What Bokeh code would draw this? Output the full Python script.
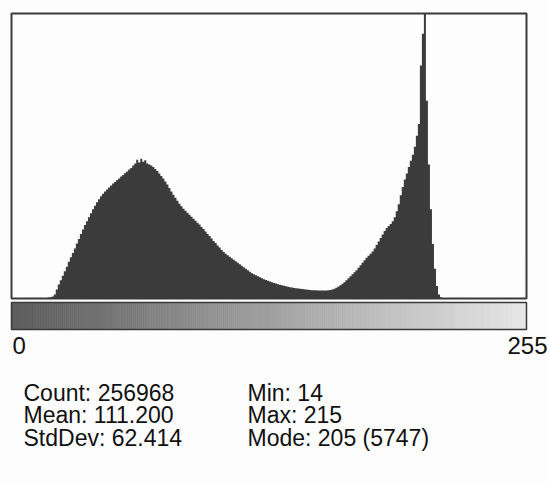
from bokeh.plotting import figure
from bokeh.models import Range1d
from bokeh.core.properties import value
from bokeh.embed import file_html
from bokeh.resources import INLINE

# ---- data ----
first_bin = 14
counts_from_14 = [
    3, 5, 8, 12, 18, 25, 40, 80, 180, 280,            # 14-23
    370, 460, 550, 640, 740, 830, 920, 1010, 1110, 1200,  # 24-33
    1300, 1390, 1480, 1560, 1640, 1720, 1800, 1870, 1940, 2000,  # 34-43
    2060, 2110, 2160, 2200, 2240, 2280, 2320, 2350, 2390, 2420,  # 44-53
    2460, 2490, 2530, 2560, 2600, 2630, 2680, 2720, 2800, 2740,  # 54-63
    2820, 2760, 2790, 2720, 2700, 2680, 2650, 2610, 2570, 2520,  # 64-73
    2470, 2420, 2360, 2300, 2230, 2160, 2090, 2030, 1970, 1910,  # 74-83
    1860, 1810, 1770, 1730, 1690, 1650, 1610, 1570, 1530, 1490,  # 84-93
    1440, 1400, 1350, 1300, 1260, 1210, 1160, 1120, 1070, 1030,  # 94-103
    980, 940, 900, 870, 840, 810, 780, 750, 720, 690,            # 104-113
    660, 630, 600, 570, 540, 510, 490, 470, 450, 430,            # 114-123
    410, 390, 375, 360, 345, 330, 315, 300, 285, 275,            # 124-133
    265, 255, 245, 235, 228, 220, 213, 206, 200, 195,            # 134-143
    190, 185, 180, 176, 172, 168, 166, 164, 162, 160,            # 144-153
    160, 160, 162, 165, 170, 180, 195, 215, 240, 265,            # 154-163
    295, 330, 370, 410, 450, 490, 530, 570, 620, 670,            # 164-173
    720, 770, 820, 860, 900, 950, 1010, 1080, 1150, 1220,        # 174-183
    1290, 1360, 1420, 1460, 1500, 1560, 1640, 1760, 1900, 2080,  # 184-193
    2250, 2400, 2520, 2650, 2780, 2900, 3060, 3280, 3520, 4700,  # 194-203
    5340, 5747, 3990, 2700, 1800, 1100, 600, 250, 80, 25,        # 204-213
    8, 3,                                                        # 214-215
]
bins = list(range(256))
counts = [0] * 256
for i, c in enumerate(counts_from_14):
    counts[first_bin + i] = c
y_max = 5747

axis_labels = ["0", "255"]
stats_left = ["Count: 256968", "Mean: 111.200", "StdDev: 62.414"]
stats_right = ["Min: 14", "Max: 215", "Mode: 205 (5747)"]

# ---- layout ----
W, H = 549, 483
frame_left_px, frame_right_px = 11, 526
frame_top_px, frame_bottom_px = 13, 298
sx = (frame_right_px - frame_left_px) / 256.0
sy = (frame_bottom_px - frame_top_px) / float(y_max)

p = figure(width=W, height=H, output_backend="svg", toolbar_location=None,
           x_range=Range1d(-frame_left_px / sx, (W - frame_left_px) / sx),
           y_range=Range1d(-(H - frame_bottom_px) / sy, y_max + frame_top_px / sy),
           min_border=0, background_fill_color="#fdfdfd", border_fill_color="#fdfdfd")
p.extra_x_ranges = {"px": Range1d(0, W)}
p.extra_y_ranges = {"px": Range1d(H, 0)}
p.axis.visible = False
p.grid.visible = False
p.outline_line_color = None

# histogram
p.varea_step(x=bins + [256], y1=[0] * 257, y2=counts + [0], step_mode="after",
             fill_color="#3b3b3b")

# frame around histogram
p.quad(left=[0], right=[256], bottom=[0], top=[y_max], fill_color=None,
       line_color="#3a3a3a", line_width=2)

# gradient bar (grey ramp)
bar_top, bar_bottom = 302, 329
def grey(i):
    v = int(round(0x5a + (0xe6 - 0x5a) * i / 255.0))
    return "#%02x%02x%02x" % (v, v, v)
ramp = [grey(i) for i in bins]
p.quad(left=bins, right=[b + 1 for b in bins], bottom=[bar_bottom] * 256,
       top=[bar_top] * 256, fill_color=ramp, line_color=ramp, line_width=0.6,
       y_range_name="px")
p.quad(left=[0], right=[256], bottom=[bar_bottom], top=[bar_top], fill_color=None,
       line_color="#3a3a3a", line_width=1.5, y_range_name="px")

font = value("Liberation Sans")
# axis end labels
p.text(x=[12], y=[345], text=[axis_labels[0]], text_font=font, text_font_size="24px",
       text_color="#111111", text_baseline="middle", text_align="left",
       x_range_name="px", y_range_name="px")
p.text(x=[547], y=[345], text=[axis_labels[1]], text_font=font, text_font_size="24px",
       text_color="#111111", text_baseline="middle", text_align="right",
       x_range_name="px", y_range_name="px")

# statistics
centers = [392, 414.5, 437]
p.text(x=[23] * 3, y=centers, text=stats_left, text_font=font, text_font_size="23px",
       text_color="#111111", text_baseline="middle", text_align="left",
       x_range_name="px", y_range_name="px")
p.text(x=[247] * 3, y=centers, text=stats_right, text_font=font, text_font_size="23px",
       text_color="#111111", text_baseline="middle", text_align="left",
       x_range_name="px", y_range_name="px")

open("out.html", "w").write(file_html(p, INLINE))
